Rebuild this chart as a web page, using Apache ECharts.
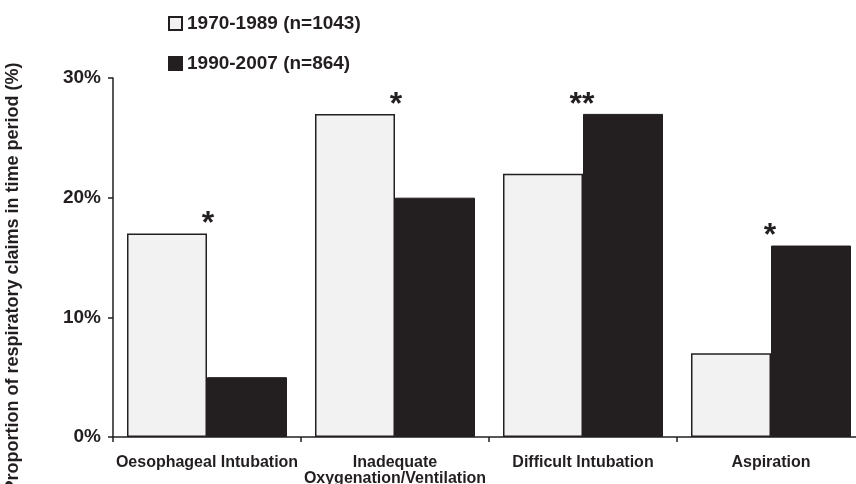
<!DOCTYPE html>
<html>
<head>
<meta charset="utf-8">
<script src="https://cdn.jsdelivr.net/npm/echarts@6/dist/echarts.min.js"></script>
<style>
html, body { margin: 0; padding: 0; background: #fff; }
#chart { width: 856px; height: 484px; }
</style>
</head>
<body>
<div id="chart"></div>
<script>
var categories = ['Oesophageal Intubation', 'Inadequate\nOxygenation/Ventilation', 'Difficult Intubation', 'Aspiration'];
var period1 = [17, 27, 22, 7];   // 1970-1989 (n=1043)
var period2 = [5, 20, 27, 16];   // 1990-2007 (n=864)
var marks = ['*', '*', '**', '*']; // significance markers
var yTicks = [0, 10, 20, 30];

var ink = '#231f20';
var font = 'Liberation Sans, Arial, sans-serif';

// put the marker on the taller bar, shifted toward the group centre
function withMarks(values, other, side) {
	return values.map(function (v, i) {
		var item = { value: v };
		if (v >= other[i]) {
			item.label = {
				show: true,
				formatter: marks[i],
				position: 'top',
				distance: -7,
				offset: [side * 41, 0],
				color: ink,
				fontSize: 32,
				fontWeight: 'bold',
				fontFamily: font
			};
		}
		return item;
	});
}

var chart = echarts.init(document.getElementById('chart'));
chart.setOption({
	animation: false,
	textStyle: { fontFamily: font, color: ink },
	legend: {
		orient: 'vertical',
		left: 163,
		top: 9,
		itemGap: 21,
		itemWidth: 13,
		itemHeight: 13,
		icon: 'rect',
		textStyle: { fontSize: 19, fontWeight: 'bold', color: ink, fontFamily: font },
		data: ['1970-1989 (n=1043)', '1990-2007 (n=864)']
	},
	grid: { left: 113, width: 752, top: 78, height: 359, outerBoundsMode: 'none', containLabel: false },
	xAxis: {
		type: 'category',
		data: categories,
		axisLine: { lineStyle: { color: ink, width: 1.5 } },
		axisTick: { show: true, length: 5, lineStyle: { color: ink, width: 1.5 } },
		axisLabel: { color: ink, fontSize: 16, fontWeight: 'bold', margin: 18, lineHeight: 16, fontFamily: font, interval: 0 }
	},
	yAxis: {
		type: 'value',
		min: yTicks[0],
		max: yTicks[yTicks.length - 1],
		interval: 10,
		name: 'Proportion of respiratory claims in time period (%)',
		nameLocation: 'middle',
		nameGap: 91,
		nameTextStyle: { fontSize: 18, fontWeight: 'bold', color: ink, fontFamily: font, padding: [0, 40, 0, 0] },
		splitLine: { show: false },
		axisLine: { show: true, lineStyle: { color: ink, width: 1.5 } },
		axisTick: { show: true, length: 5, lineStyle: { color: ink, width: 1.5 } },
		axisLabel: { formatter: '{value}%', color: ink, fontSize: 19, fontWeight: 'bold', margin: 12, fontFamily: font }
	},
	series: [{
		name: '1970-1989 (n=1043)',
		type: 'bar',
		barWidth: 80,
		barGap: '0%',
		itemStyle: { color: '#f2f2f2', borderColor: ink, borderWidth: 1.5 },
		data: withMarks(period1, period2, 1)
	}, {
		name: '1990-2007 (n=864)',
		type: 'bar',
		barWidth: 80,
		barGap: '0%',
		itemStyle: { color: ink, borderColor: ink, borderWidth: 1 },
		data: withMarks(period2, period1, -1)
	}]
});
</script>
</body>
</html>
